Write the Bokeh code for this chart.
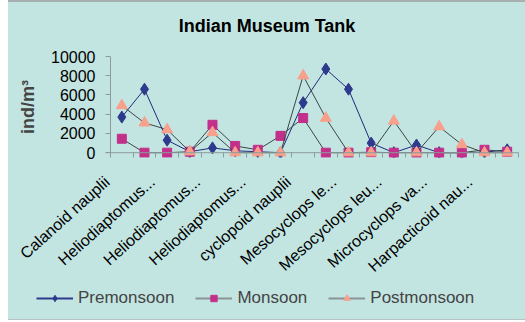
import math
from bokeh.plotting import figure
from bokeh.models import (FixedTicker, Range1d, Span, Legend, LegendItem, Spacer, Label)
from bokeh.layouts import column, row
from bokeh.embed import file_html
from bokeh.resources import INLINE

# Copepod density (ind/m3) for 18 taxa, by season
premonsoon = [3700, 6600, 1300, 100, 500, 200, 100, 0, 5200, 8700, 6600, 1000, 0, 800, 0, 0, 50, 300]
monsoon = [1450, 0, 0, 100, 2900, 700, 300, 1750, 3600, 0, 0, 50, 0, 0, 0, 0, 300, 100]
postmonsoon = [4900, 3100, 2400, 100, 2100, 0, 0, 0, 8000, 3600, 0, 0, 3300, 0, 2700, 850, 0, 0]

# Only every second taxon is labelled on the axis
tick_labels = ["Calanoid nauplii", "Heliodiaptomus...", "Heliodiaptomus...",
               "Heliodiaptomus...", "cyclopoid nauplii", "Mesocyclops le...",
               "Mesocyclops leu...", "Microcyclops va...", "Harpacticoid nau..."]
y_ticks = [0, 2000, 4000, 6000, 8000, 10000]
seasons = ["Premonsoon", "Monsoon", "Postmonsoon"]
series = [premonsoon, monsoon, postmonsoon]

BG = "#c3e5e2"
FONT = "Liberation Sans"
AXIS_GREY = "#8c9c9c"
LINE_COLORS = ["#1f2a7a", "#3a4646", "#3a4646"]
LEGEND_LINE_COLORS = ["#2e3a8c", "#8a9494", "#8a9494"]
MARKERS = ["diamond", "square", "triangle"]
MARKER_COLORS = ["#2e3a8c", "#c2308a", "#f7a08c"]
MARKER_SIZES = [12, 9, 11]
W = 517


def strip(height, x_range=(0, 1), y_range=(0, 1)):
    """A bare full-bleed figure used for the title and legend bands."""
    f = figure(width=W, height=height, output_backend="svg", toolbar_location=None,
               x_range=Range1d(*x_range), y_range=Range1d(*y_range),
               x_axis_type=None, y_axis_type=None,
               min_border_left=0, min_border_right=0, min_border_top=0, min_border_bottom=0)
    f.frame_align = False
    f.background_fill_color = BG
    f.border_fill_color = BG
    f.outline_line_color = None
    f.grid.visible = False
    return f


# Title band
head = strip(40)
head.add_layout(Label(x=W / 2, y=17, x_units="screen", y_units="screen",
                      text="Indian Museum Tank", text_align="center",
                      text_baseline="middle", text_font=FONT, text_font_size="18px",
                      text_font_style="bold", text_color="black"))

x = list(range(len(premonsoon)))

# The x range starts a little before the first category so that the first
# (left-shifted) label stays inside it; the visible y axis is a Span at -0.5.
X_START = -0.72
p = figure(width=W, height=242, output_backend="svg", toolbar_location=None,
           x_range=Range1d(X_START, len(x) - 0.5), y_range=Range1d(-500, 10000),
           min_border_left=97, min_border_right=7, min_border_top=14,
           min_border_bottom=124)
p.frame_align = False
p.background_fill_color = BG
p.border_fill_color = BG
p.outline_line_color = None
p.grid.visible = False

# x axis: category labels slightly left of each point, ticks on category boundaries
label_pos = [2 * i - 0.65 for i in range(len(tick_labels))]
xa = p.xaxis[0]
xa.ticker = FixedTicker(ticks=label_pos, minor_ticks=[i - 0.5 for i in range(len(x) + 1)])
xa.major_label_overrides = {pos: lab for pos, lab in zip(label_pos, tick_labels)}
xa.major_label_orientation = math.radians(42)
xa.major_label_text_font = FONT
xa.major_label_text_font_size = "16px"
xa.major_label_text_color = "black"
xa.major_label_standoff = 22
xa.major_tick_in = 0
xa.major_tick_out = 0
xa.minor_tick_in = 5
xa.minor_tick_out = 0
xa.minor_tick_line_color = AXIS_GREY
xa.axis_line_color = None

ya = p.yaxis[0]
ya.ticker = FixedTicker(ticks=y_ticks)
ya.major_label_text_font = FONT
ya.major_label_text_font_size = "16px"
ya.major_label_text_color = "black"
ya.major_label_standoff = 10
ya.major_tick_in = 5
ya.major_tick_out = 0
ya.minor_tick_in = 0
ya.minor_tick_out = 0
ya.major_tick_line_color = AXIS_GREY
ya.axis_line_color = None
ya.axis_label = "ind/m³"
ya.axis_label_text_font = FONT
ya.axis_label_text_font_size = "18px"
ya.axis_label_text_font_style = "bold"
ya.axis_label_standoff = 10

p.add_layout(Span(location=0, dimension="width", line_color=AXIS_GREY, line_width=1))
p.add_layout(Span(location=-0.5, dimension="height", line_color=AXIS_GREY, line_width=1))

for values, lc, mk, mc, ms in zip(series, LINE_COLORS, MARKERS, MARKER_COLORS, MARKER_SIZES):
    p.line(x, values, line_color=lc, line_width=1)
    p.scatter(x, values, marker=mk, size=ms, fill_color=mc, line_color=mc)

# Legend band: the series are drawn here too, but the band's view lies
# outside the data, so only the legend swatches show.
leg = strip(35, x_range=(-20, -19), y_range=(-20, -19))
items = []
for name, values, llc, mk, mc, ms in zip(seasons, series, LEGEND_LINE_COLORS,
                                         MARKERS, MARKER_COLORS, MARKER_SIZES):
    r_line = leg.line(x, values, line_color=llc, line_width=2)
    r_mark = leg.scatter(x, values, marker=mk, size=ms - 2, fill_color=mc, line_color=mc)
    items.append(LegendItem(label=name, renderers=[r_line, r_mark]))

legend = Legend(items=items, orientation="horizontal", location=(28, 11),
                background_fill_alpha=0, border_line_color=None,
                padding=0, margin=0, spacing=21, label_standoff=5,
                glyph_width=37, glyph_height=16,
                label_text_font=FONT, label_text_font_size="17px")
leg.add_layout(legend)

top_line = Spacer(width=W, height=2, styles={"background-color": "#a7b1b1"})
bottom_line = Spacer(width=W, height=1, styles={"background-color": "#b8c2c2"})
chart = column(top_line, head, p, leg, bottom_line, spacing=0,
               styles={"background-color": BG})
layout = row(Spacer(width=8, height=322), chart, spacing=0)

open("out.html", "w").write(file_html(layout, INLINE))
